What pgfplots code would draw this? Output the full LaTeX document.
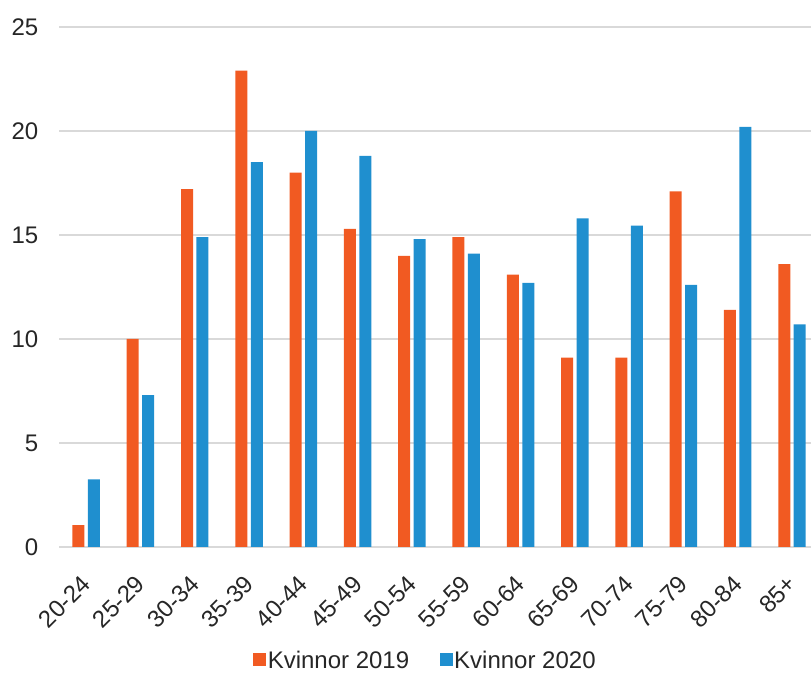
\documentclass[border=0pt]{standalone}
\usepackage{fontspec}
\setmainfont{Liberation Sans}
\usepackage{pgfplots}
\pgfplotsset{compat=1.18}
\definecolor{kv19}{RGB}{241,90,34}
\definecolor{kv20}{RGB}{31,143,207}
\definecolor{gridgray}{RGB}{217,217,217}
\definecolor{txt}{RGB}{38,38,38}
\begin{document}
\begin{tikzpicture}
\useasboundingbox (0pt,0pt) rectangle (608.25pt,504.75pt);
\begin{axis}[
  at={(44.25pt,94.5pt)}, anchor=south west,
  scale only axis, width=564pt, height=390pt,
  xmin=-0.5, xmax=13.35, ymin=0, ymax=25,
  ytick={0,5,...,25},
  xtick={0,...,13},
  xticklabels={20-24,25-29,30-34,35-39,40-44,45-49,50-54,55-59,60-64,65-69,70-74,75-79,80-84,85+},
  axis line style={draw=none},
  major tick length=0pt,
  ymajorgrids, grid style={gridgray, line width=1.1pt},
  ybar, bar width=9pt,
  enlargelimits=false,
  font=\fontsize{18}{21}\selectfont,
  tick label style={text=txt},
  /pgf/number format/assume math mode=true,
  yticklabel style={xshift=-12pt},
  xticklabel style={xshift=-4.5pt, yshift=-20pt, rotate=45, anchor=north east, inner sep=0pt},
  legend style={draw=none, fill=none, at={(0.487,-0.218)}, anchor=center,
    inner sep=0pt, nodes={inner sep=1pt},
    legend columns=2, text=txt, font=\fontsize{18}{21}\selectfont,
    /tikz/every even column/.append style={column sep=22pt}},
  legend cell align=left,
  legend image code/.code={\fill[#1] (0pt,-4.6pt) rectangle (9.75pt,5.15pt);},
  clip=false,
]
\addplot[fill=kv19, draw=none, bar shift=-5.8pt] coordinates {
  (0,1.05) (1,10.0) (2,17.2) (3,22.9) (4,18.0) (5,15.3) (6,14.0)
  (7,14.9) (8,13.1) (9,9.1) (10,9.1) (11,17.1) (12,11.4) (13,13.6)};
\addplot[fill=kv20, draw=none, bar shift=5.8pt] coordinates {
  (0,3.25) (1,7.3) (2,14.9) (3,18.5) (4,20.0) (5,18.8) (6,14.8)
  (7,14.1) (8,12.7) (9,15.8) (10,15.45) (11,12.6) (12,20.2) (13,10.7)};
\legend{Kvinnor 2019, Kvinnor 2020}
\end{axis}
\end{tikzpicture}
\end{document}
